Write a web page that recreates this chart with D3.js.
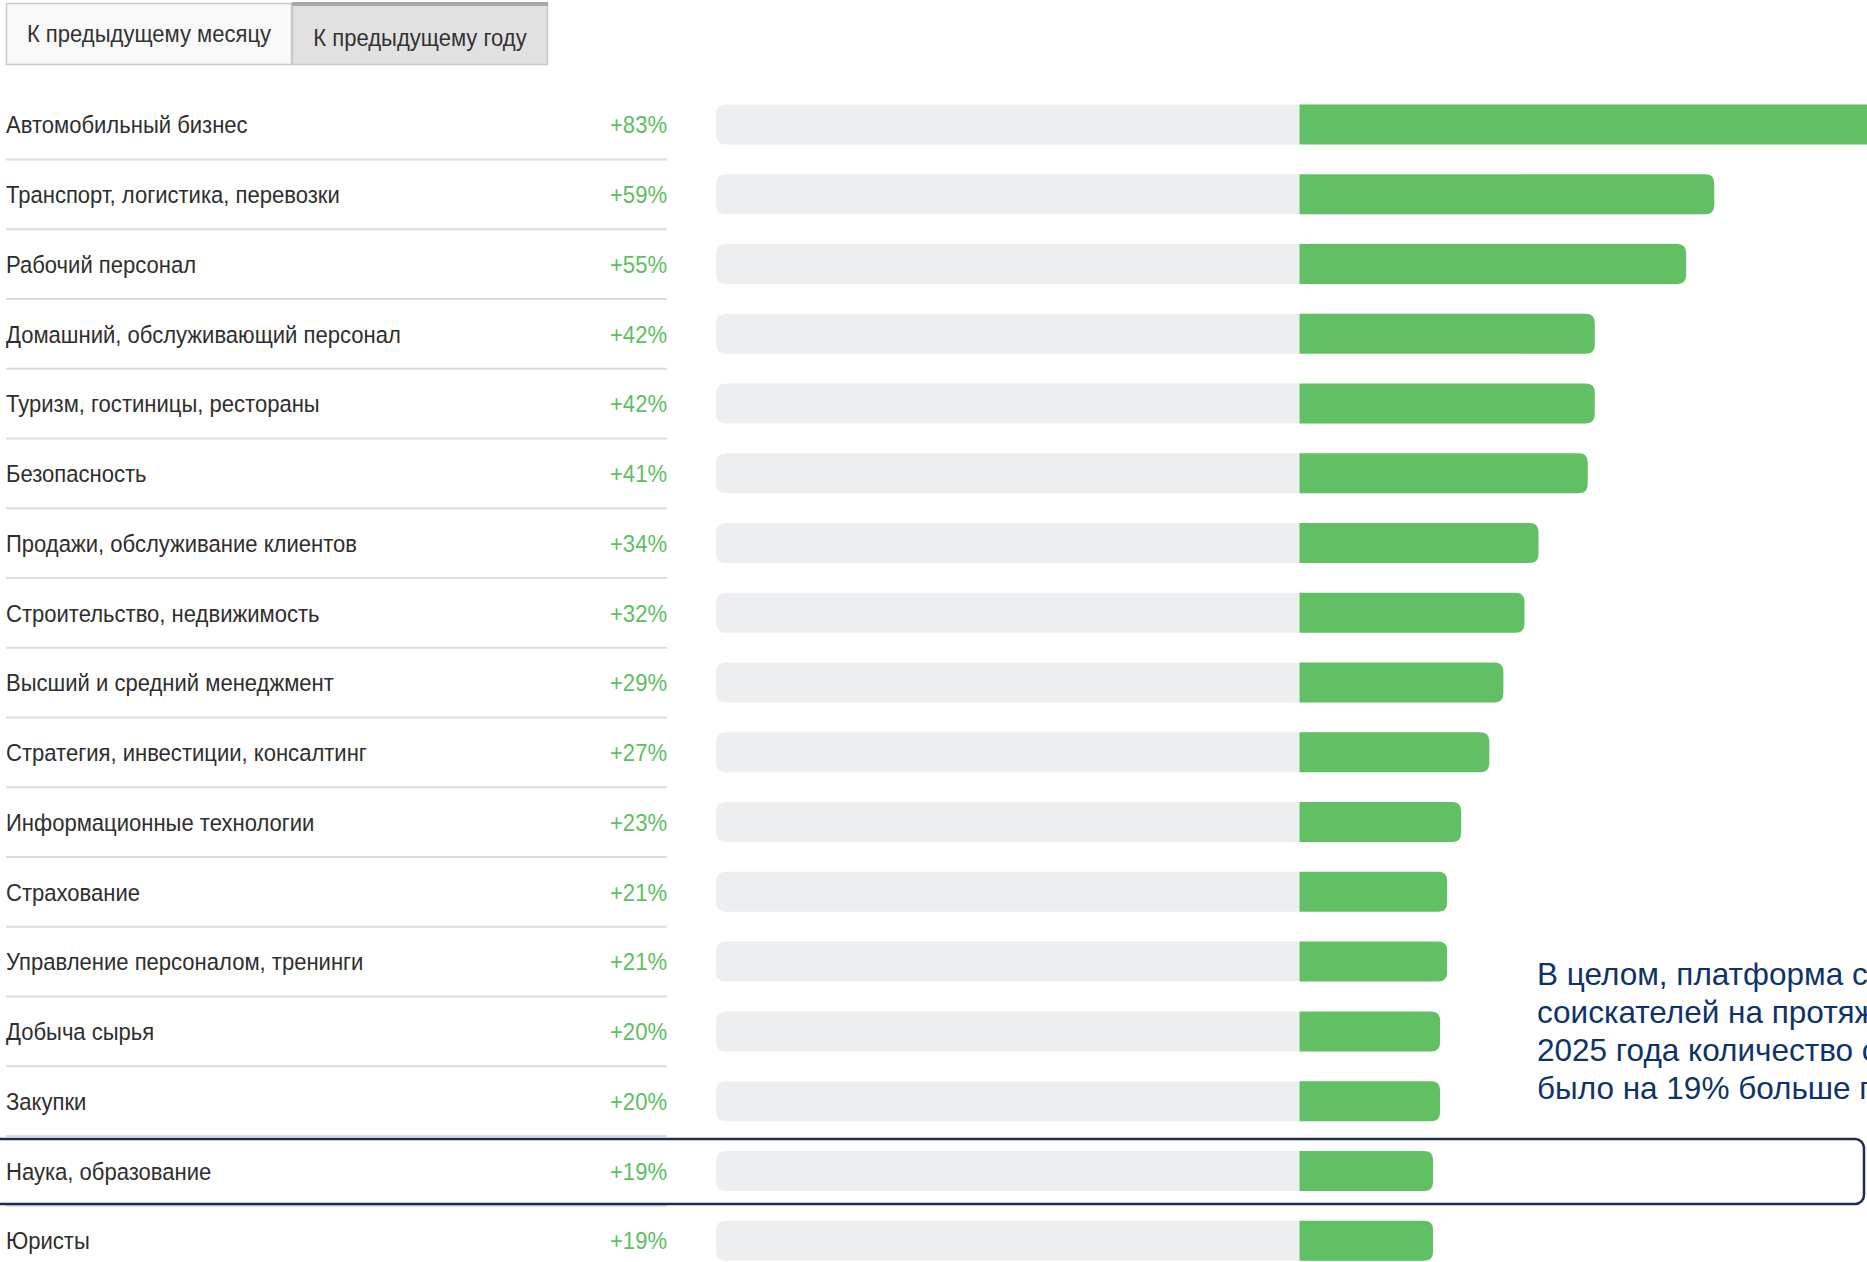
<!DOCTYPE html>
<html><head><meta charset="utf-8">
<script src="https://cdn.jsdelivr.net/npm/d3@7"></script>
<style>
html,body{margin:0;padding:0;background:#fff;overflow:hidden;}
svg{display:block;font-family:"Liberation Sans",Arial,sans-serif;}
</style></head>
<body>
<script>
const tabs = ["К предыдущему месяцу", "К предыдущему году"];
const categories = [
  "Автомобильный бизнес",
  "Транспорт, логистика, перевозки",
  "Рабочий персонал",
  "Домашний, обслуживающий персонал",
  "Туризм, гостиницы, рестораны",
  "Безопасность",
  "Продажи, обслуживание клиентов",
  "Строительство, недвижимость",
  "Высший и средний менеджмент",
  "Стратегия, инвестиции, консалтинг",
  "Информационные технологии",
  "Страхование",
  "Управление персоналом, тренинги",
  "Добыча сырья",
  "Закупки",
  "Наука, образование",
  "Юристы"
];
const values = [83, 59, 55, 42, 42, 41, 34, 32, 29, 27, 23, 21, 21, 20, 20, 19, 19];
const highlighted = "Наука, образование";
const noteLines = [
  "В целом, платформа собрала больше",
  "соискателей на протяжении всего года: в",
  "2025 года количество соискателей",
  "было на 19% больше прошлогоднего"
];

const W = 1867, H = 1262;
const SX = 0.9; // condensed look of the original UI font
const svg = d3.select("body").append("svg").attr("width", W).attr("height", H);

// tabs
const tabX = d3.scaleOrdinal().domain(tabs).range([6, 292]);
const tabW = d3.scaleOrdinal().domain(tabs).range([286, 256]);
const tg = svg.append("g");
tabs.forEach((t, i) => {
  const g = tg.append("g");
  g.append("rect").attr("x", tabX(t) + 0.5).attr("y", 3.5).attr("width", tabW(t) - 1).attr("height", 61)
    .attr("fill", i === 0 ? "#f9f9f9" : "#e1e1e1").attr("stroke", "#c9c9c9").attr("stroke-width", 1.5);
  if (i === 1) g.append("rect").attr("x", tabX(t)).attr("y", 2).attr("width", tabW(t)).attr("height", 4).attr("fill", "#a8a8a8");
  g.append("text").attr("transform", `scale(${SX},1)`)
    .attr("x", (tabX(t) + tabW(t) / 2) / SX).attr("y", i === 0 ? 33 : 37).attr("dy", "0.35em")
    .attr("text-anchor", "middle").attr("font-size", 24.5).attr("fill", "#333").text(t);
});

// scales
const maxV = d3.max(values);
const x = d3.scaleLinear().domain([-maxV, maxV]).range([716, 1883]);
const rowStep = 69.76;
const y = d3.scalePoint().domain(categories).range([124.5, 124.5 + rowStep * (categories.length - 1)]);
const barH = 40;

// separators
svg.append("g").selectAll("line").data(categories.slice(0, -1)).join("line")
  .attr("x1", 6).attr("x2", 667)
  .attr("y1", d => y(d) + rowStep / 2).attr("y2", d => y(d) + rowStep / 2)
  .attr("stroke", "#dcdcdc").attr("stroke-width", 2);

// highlight box
svg.append("rect").attr("x", -20).attr("y", y(highlighted) - 32).attr("width", 1884).attr("height", 65)
  .attr("rx", 9).attr("fill", "none").attr("stroke", "#1c2d52").attr("stroke-width", 2.5);

const rows = svg.append("g").selectAll("g").data(categories).join("g")
  .attr("transform", d => `translate(0,${y(d)})`);

rows.append("text").attr("transform", `scale(${SX},1)`).attr("x", 6 / SX).attr("dy", "0.36em")
  .attr("font-size", 24.5).attr("fill", "#2e2e2e").text(d => d);
rows.append("text").attr("transform", `scale(${SX},1)`).attr("x", 667 / SX).attr("dy", "0.36em")
  .attr("text-anchor", "end").attr("font-size", 24.5)
  .attr("fill", "#5cbf60").text((d, i) => "+" + values[i] + "%");

function leftRound(x0, x1, h, r) {
  return `M${x1},${-h/2} L${x0 + r},${-h/2} Q${x0},${-h/2} ${x0},${-h/2 + r} L${x0},${h/2 - r} Q${x0},${h/2} ${x0 + r},${h/2} L${x1},${h/2} Z`;
}
function rightRound(x0, x1, h, r) {
  return `M${x0},${-h/2} L${x1 - r},${-h/2} Q${x1},${-h/2} ${x1},${-h/2 + r} L${x1},${h/2 - r} Q${x1},${h/2} ${x1 - r},${h/2} L${x0},${h/2} Z`;
}
rows.append("path").attr("d", () => leftRound(x(-maxV), x(0), barH, 10)).attr("fill", "#edeef0");
rows.append("path").attr("d", (d, i) => rightRound(x(0), x(values[i]), barH, 9)).attr("fill", "#61bf64");

// annotation
const note = svg.append("text").attr("x", 1537).attr("y", 974).attr("font-size", 31.5).attr("fill", "#0e336a");
note.selectAll("tspan").data(noteLines).join("tspan").attr("x", 1537).attr("dy", (d, i) => i === 0 ? "0.35em" : 38).text(d => d);
</script>
</body></html>
